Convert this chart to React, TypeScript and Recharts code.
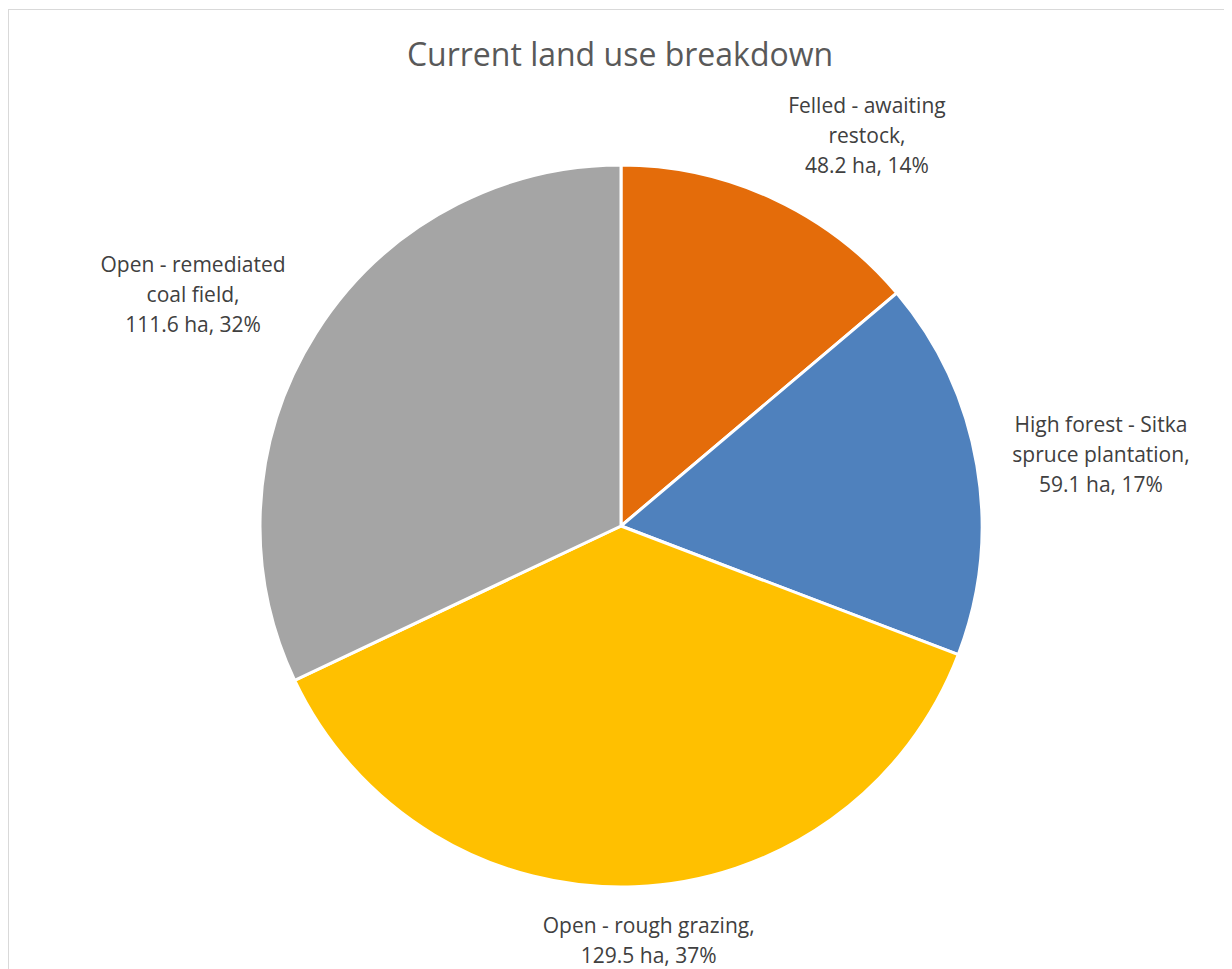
import { PieChart, Pie, Cell } from "recharts";

const categories = [
  "Felled - awaiting restock",
  "High forest - Sitka spruce plantation",
  "Open - rough grazing",
  "Open - remediated coal field",
];
const areas = [48.2, 59.1, 129.5, 111.6];
const labelNameLines = [
  ["Felled - awaiting", "restock,"],
  ["High forest - Sitka", "spruce plantation,"],
  ["Open - rough grazing,"],
  ["Open - remediated", "coal field,"],
];
const colors = ["#E46C0A", "#4F81BD", "#FFC000", "#A5A5A5"];

const data = categories.map((name, i) => ({ name, value: areas[i], idx: i }));

const RADIAN = Math.PI / 180;
const FONT = "'Open Sans', sans-serif";
const LABEL_SIZE = 21;
const LINE_H = 30;

let measureCtx: CanvasRenderingContext2D | null = null;
const textWidth = (s: string) => {
  if (!measureCtx) {
    measureCtx = document.createElement("canvas").getContext("2d");
  }
  if (!measureCtx) return s.length * LABEL_SIZE * 0.5;
  measureCtx.font = `${LABEL_SIZE}px 'Open Sans'`;
  return measureCtx.measureText(s).width;
};

const renderLabel = (props: any) => {
  const { cx, cy, midAngle, outerRadius, percent, payload } = props;
  const idx = payload.idx ?? props.index;
  const lines = [...labelNameLines[idx], `${areas[idx]} ha, ${Math.round(percent * 100)}%`];
  const ux = Math.cos(-midAngle * RADIAN);
  const uy = Math.sin(-midAngle * RADIAN);
  // anchor point just outside the arc, a bit wider horizontally
  const px = cx + (outerRadius + 36) * ux;
  const py = cy + (outerRadius + 22) * uy;
  const halfW = Math.max(...lines.map(textWidth)) / 2;
  const halfH = (lines.length * LINE_H) / 2;
  const clamp = (v: number) => Math.max(-1, Math.min(1, v));
  const bx = px + halfW * clamp(ux * 3);
  const by = py + halfH * clamp(uy * 1.2);
  const top = by - halfH + LINE_H * 0.72 + 3;
  return (
    <text
      x={bx}
      y={top}
      textAnchor="middle"
      fill="#404040"
      fontFamily={FONT}
      fontSize={LABEL_SIZE}
    >
      {lines.map((l, i) => (
        <tspan key={i} x={bx} y={top + i * LINE_H}>
          {l}
        </tspan>
      ))}
    </text>
  );
};

export default function App() {
  return (
    <div
      style={{
        width: 1224,
        height: 961,
        borderLeft: "1px solid #d9d9d9",
        borderTop: "1px solid #d9d9d9",
        marginTop: 1,
        boxSizing: "border-box",
        background: "#fff",
        overflow: "hidden",
      }}
    >
      <PieChart width={1223} height={960} margin={{ top: 0, right: 0, bottom: 0, left: 0 }}>
        <text
          x={611}
          y={56}
          textAnchor="middle"
          fill="#595959"
          fontFamily={FONT}
          fontSize={32}
        >
          Current land use breakdown
        </text>
        <Pie
          data={data}
          dataKey="value"
          nameKey="name"
          cx={612}
          cy={516}
          outerRadius={361}
          startAngle={90}
          endAngle={-270}
          stroke="#ffffff"
          strokeWidth={3}
          label={renderLabel}
          labelLine={false}
          isAnimationActive={false}
        >
          {data.map((d, i) => (
            <Cell key={d.name} fill={colors[i]} />
          ))}
        </Pie>
      </PieChart>
    </div>
  );
}
